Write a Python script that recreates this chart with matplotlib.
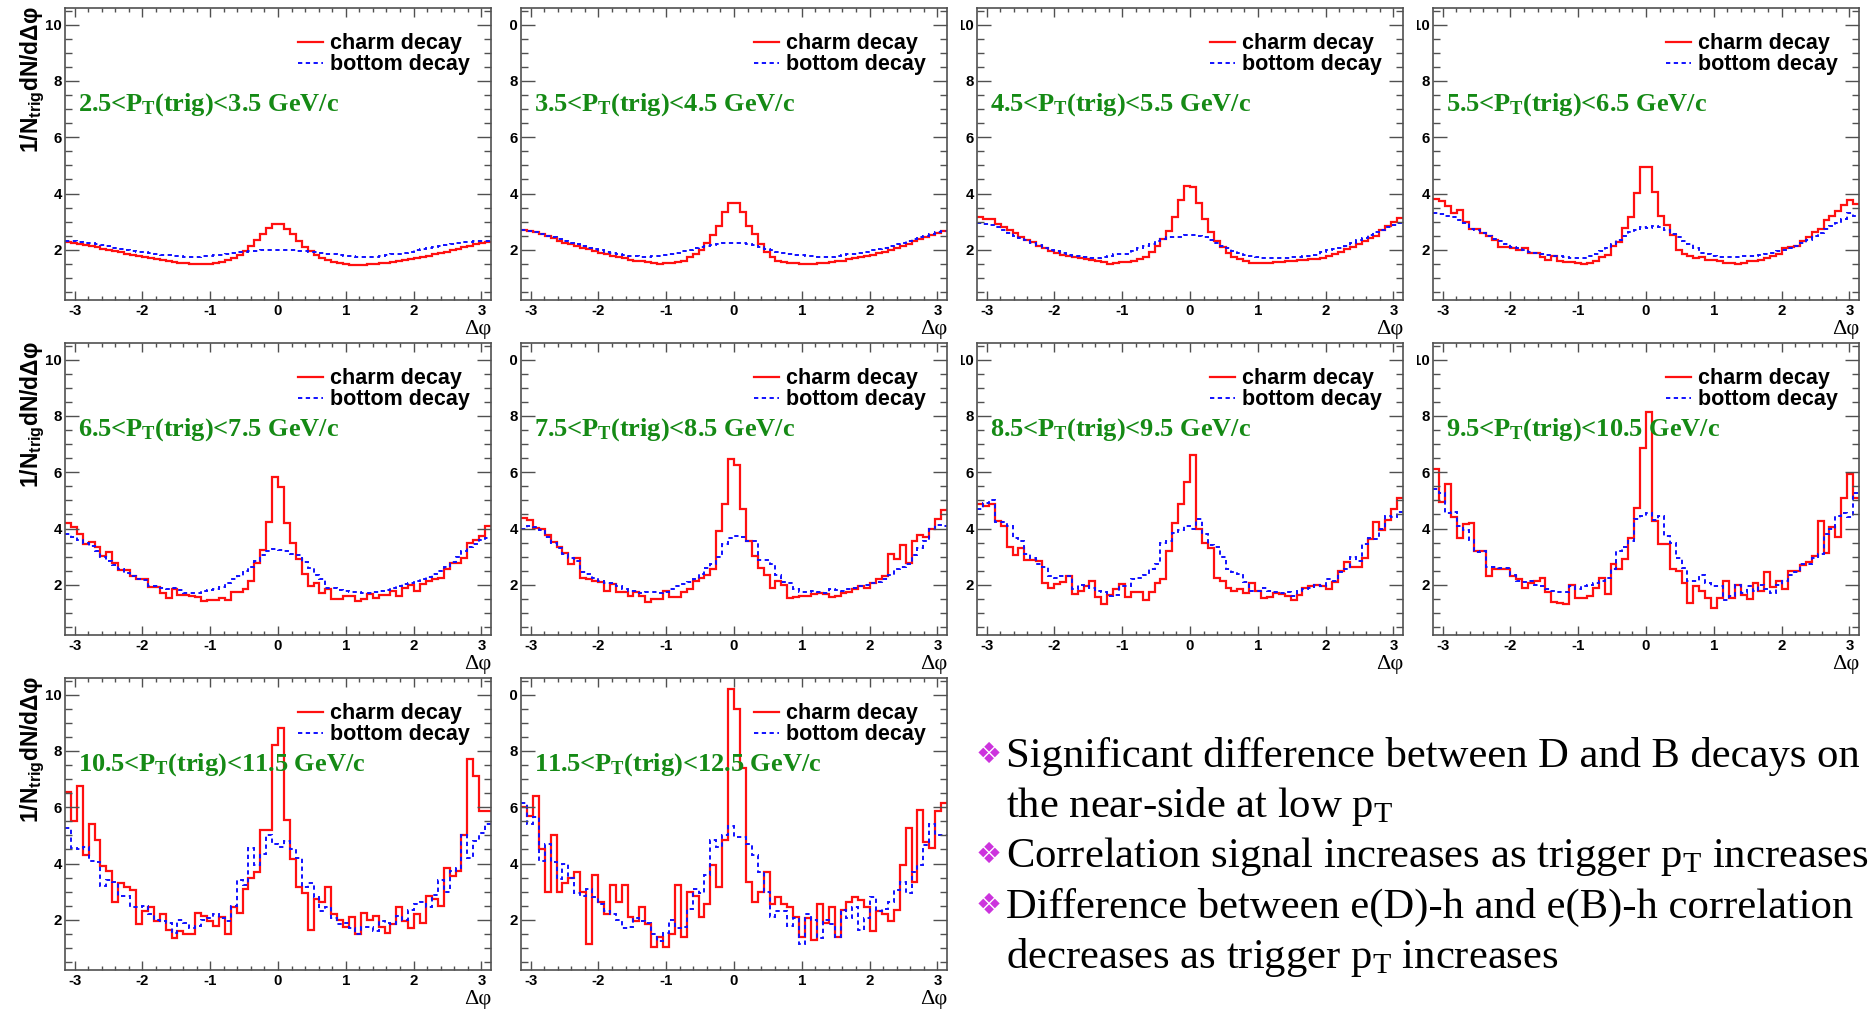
import numpy as np
import matplotlib
matplotlib.use("Agg")
import matplotlib.pyplot as plt
from matplotlib.transforms import Bbox, IdentityTransform, TransformedBbox
from matplotlib.ticker import MultipleLocator

# ---------------- data ----------------
pt_low = ["2.5", "3.5", "4.5", "5.5", "6.5", "7.5", "8.5", "9.5", "10.5", "11.5"]
pt_high = ["3.5", "4.5", "5.5", "6.5", "7.5", "8.5", "9.5", "10.5", "11.5", "12.5"]
n_bins = 72

charm_1 = [2.28, 2.25, 2.21, 2.17, 2.13, 2.09, 2.04, 2.0, 1.95, 1.91, 1.86, 1.82, 1.78, 1.74, 1.70, 1.66, 1.63, 1.60,
           1.57, 1.54, 1.52, 1.50, 1.49, 1.49, 1.51, 1.54, 1.58, 1.64, 1.72, 1.82, 1.95, 2.12, 2.35, 2.58, 2.78, 2.93,
           2.93, 2.75, 2.55, 2.3, 2.1, 1.95, 1.82, 1.72, 1.64, 1.58, 1.53, 1.5, 1.46, 1.47, 1.48, 1.5, 1.51, 1.53,
           1.55, 1.58, 1.61, 1.64, 1.67, 1.71, 1.75, 1.79, 1.84, 1.89, 1.94, 1.99, 2.04, 2.09, 2.15, 2.2, 2.25, 2.28]
bottom_1 = [2.33, 2.31, 2.29, 2.26, 2.23, 2.2, 2.16, 2.12, 2.08, 2.04, 2.0, 1.97, 1.94, 1.91, 1.88, 1.85, 1.83, 1.81,
            1.79, 1.77, 1.76, 1.75, 1.76, 1.77, 1.79, 1.81, 1.83, 1.86, 1.88, 1.91, 1.93, 1.95, 1.97, 1.99, 2.0, 2.01,
            2.01, 2.0, 1.99, 1.97, 1.95, 1.93, 1.91, 1.88, 1.86, 1.84, 1.82, 1.8, 1.78, 1.76, 1.75, 1.75, 1.76, 1.78,
            1.81, 1.84, 1.87, 1.9, 1.94, 1.98, 2.02, 2.06, 2.1, 2.14, 2.18, 2.22, 2.25, 2.27, 2.29, 2.31, 2.32, 2.33]

charm_2 = [2.7, 2.68, 2.62, 2.55, 2.48, 2.42, 2.32, 2.26, 2.2, 2.12, 2.07, 2.02, 1.96, 1.9, 1.86, 1.8, 1.76, 1.7,
           1.65, 1.62, 1.6, 1.56, 1.52, 1.51, 1.52, 1.53, 1.56, 1.6, 1.73, 1.86, 2.0, 2.26, 2.53, 2.85, 3.36, 3.65,
           3.65, 3.34, 2.85, 2.55, 2.22, 1.92, 1.74, 1.62, 1.56, 1.54, 1.52, 1.5, 1.5, 1.51, 1.52, 1.53, 1.56, 1.6,
           1.62, 1.66, 1.7, 1.74, 1.78, 1.82, 1.88, 1.93, 2.0, 2.08, 2.14, 2.22, 2.3, 2.38, 2.45, 2.52, 2.6, 2.68]
bottom_2 = [2.7, 2.67, 2.62, 2.56, 2.5, 2.44, 2.38, 2.32, 2.26, 2.2, 2.14, 2.08, 2.03, 1.98, 1.94, 1.9, 1.86, 1.82,
            1.79, 1.77, 1.76, 1.76, 1.77, 1.79, 1.82, 1.86, 1.9, 1.95, 2.0, 2.05, 2.1, 2.14, 2.18, 2.21, 2.23, 2.25,
            2.24, 2.23, 2.2, 2.16, 2.1, 2.04, 1.98, 1.93, 1.88, 1.85, 1.83, 1.81, 1.8, 1.78, 1.76, 1.75, 1.76, 1.78,
            1.81, 1.84, 1.87, 1.9, 1.94, 1.98, 2.03, 2.08, 2.14, 2.2, 2.26, 2.32, 2.38, 2.44, 2.5, 2.56, 2.62, 2.68]

charm_3 = [3.18, 3.1, 3.08, 2.92, 2.83, 2.72, 2.6, 2.45, 2.35, 2.28, 2.15, 2.05, 1.96, 1.9, 1.83, 1.78, 1.76, 1.7,
           1.68, 1.65, 1.6, 1.57, 1.5, 1.55, 1.57, 1.57, 1.6, 1.68, 1.76, 1.92, 2.12, 2.39, 2.67, 3.18, 3.77, 4.28,
           4.25, 3.66, 3.1, 2.63, 2.3, 2.1, 1.88, 1.76, 1.67, 1.61, 1.53, 1.53, 1.54, 1.55, 1.57, 1.58, 1.6, 1.62,
           1.63, 1.64, 1.66, 1.68, 1.72, 1.78, 1.85, 1.93, 2.02, 2.1, 2.2, 2.32, 2.42, 2.5, 2.7, 2.85, 2.98, 3.12]
bottom_3 = [2.97, 2.93, 2.88, 2.8, 2.72, 2.6, 2.5, 2.42, 2.35, 2.25, 2.17, 2.08, 2.0, 1.95, 1.88, 1.83, 1.8, 1.77,
            1.75, 1.72, 1.72, 1.73, 1.78, 1.85, 1.85, 1.85, 1.95, 2.05, 2.12, 2.2, 2.3, 2.4, 2.45, 2.45, 2.47, 2.52,
            2.52, 2.5, 2.45, 2.35, 2.25, 2.15, 2.05, 1.97, 1.9, 1.82, 1.78, 1.75, 1.72, 1.7, 1.7, 1.7, 1.72, 1.73,
            1.75, 1.78, 1.8, 1.83, 1.92, 1.98, 2.02, 2.08, 2.15, 2.25, 2.35, 2.42, 2.52, 2.62, 2.72, 2.8, 2.88, 2.95]

charm_4 = [3.8, 3.72, 3.55, 3.3, 3.4, 3.0, 2.75, 2.75, 2.6, 2.5, 2.35, 2.1, 2.1, 2.05, 1.98, 2.05, 1.9, 1.88,
           1.75, 1.65, 1.8, 1.6, 1.56, 1.56, 1.55, 1.5, 1.53, 1.6, 1.75, 1.82, 2.12, 2.27, 2.77, 3.18, 4.03, 4.93,
           4.93, 4.05, 3.2, 2.9, 2.53, 2.0, 1.85, 1.78, 1.72, 1.75, 1.65, 1.65, 1.62, 1.55, 1.52, 1.5, 1.55, 1.6,
           1.62, 1.65, 1.72, 1.8, 1.85, 2.05, 2.1, 2.12, 2.3, 2.45, 2.62, 2.75, 3.05, 3.2, 3.38, 3.6, 3.78, 3.62]
bottom_4 = [3.3, 3.28, 3.22, 3.15, 3.05, 2.95, 2.75, 2.7, 2.6, 2.5, 2.4, 2.3, 2.2, 2.1, 2.05, 1.98, 1.92, 1.9,
            1.85, 1.82, 1.78, 1.78, 1.75, 1.72, 1.7, 1.72, 1.8, 1.85, 1.95, 2.05, 2.2, 2.35, 2.5, 2.62, 2.7, 2.8,
            2.78, 2.85, 2.8, 2.7, 2.55, 2.45, 2.3, 2.2, 2.05, 1.9, 1.85, 1.8, 1.75, 1.75, 1.75, 1.75, 1.77, 1.78,
            1.8, 1.82, 1.85, 1.9, 1.95, 2.0, 2.08, 2.15, 2.25, 2.35, 2.48, 2.6, 2.75, 2.85, 2.95, 3.1, 3.3, 3.2]

charm_5 = [4.19, 4.04, 3.82, 3.44, 3.53, 3.33, 3.03, 3.15, 2.76, 2.52, 2.52, 2.32, 2.22, 2.2, 1.93, 1.93, 1.7, 1.55,
           1.85, 1.65, 1.65, 1.6, 1.57, 1.43, 1.45, 1.47, 1.55, 1.45, 1.75, 1.75, 1.87, 2.14, 2.77, 3.24, 4.24, 5.83,
           5.46, 4.2, 3.5, 2.91, 2.38, 1.96, 2.08, 1.7, 1.85, 1.51, 1.51, 1.61, 1.61, 1.43, 1.51, 1.67, 1.55, 1.65,
           1.65, 1.79, 1.61, 1.9, 2.0, 1.79, 2.02, 2.14, 2.2, 2.26, 2.56, 2.79, 2.79, 2.97, 3.5, 3.6, 3.75, 4.1]
bottom_5 = [3.82, 3.7, 3.6, 3.48, 3.38, 3.2, 3.0, 2.85, 2.7, 2.58, 2.42, 2.3, 2.2, 2.18, 1.95, 1.95, 1.9, 1.85,
            1.9, 1.82, 1.7, 1.72, 1.72, 1.8, 1.82, 1.85, 1.92, 2.05, 2.2, 2.3, 2.5, 2.65, 2.85, 3.05, 3.2, 3.27,
            3.25, 3.2, 3.1, 3.05, 2.8, 2.6, 2.35, 2.2, 1.9, 1.88, 1.82, 1.78, 1.75, 1.75, 1.72, 1.72, 1.75, 1.78,
            1.82, 1.88, 1.95, 2.02, 2.08, 2.12, 2.2, 2.28, 2.38, 2.48, 2.62, 2.8, 3.0, 3.2, 3.35, 3.45, 3.58, 3.65]

charm_6 = [4.39, 4.31, 4.01, 3.98, 3.76, 3.53, 3.33, 3.12, 2.73, 2.97, 2.26, 2.2, 2.14, 2.1, 1.79, 2.02, 1.75, 1.75,
           1.61, 1.73, 1.61, 1.4, 1.49, 1.49, 1.79, 1.57, 1.57, 1.73, 1.85, 2.12, 2.26, 2.34, 2.58, 3.92, 4.86, 6.46,
           6.25, 4.69, 3.55, 3.03, 2.6, 2.35, 1.88, 2.14, 2.0, 1.55, 1.58, 1.62, 1.62, 1.67, 1.7, 1.68, 1.58, 1.62,
           1.7, 1.73, 1.85, 1.96, 1.88, 2.08, 2.2, 2.32, 3.09, 2.93, 3.41, 2.79, 3.56, 3.76, 3.7, 3.98, 4.33, 4.66]
bottom_6 = [3.98, 4.08, 4.05, 3.95, 3.7, 3.5, 3.3, 3.1, 2.95, 2.85, 2.45, 2.38, 2.25, 2.12, 2.05, 2.05, 1.95, 1.85,
            1.8, 1.78, 1.72, 1.75, 1.75, 1.72, 1.75, 1.85, 1.95, 2.02, 2.1, 2.2, 2.38, 2.6, 2.75, 3.0, 3.45, 3.65,
            3.75, 3.7, 3.55, 3.55, 2.9, 2.88, 2.75, 2.35, 2.1, 2.05, 1.85, 1.75, 1.75, 1.78, 1.75, 1.72, 1.85, 1.82,
            1.8, 1.85, 1.9, 1.95, 2.0, 2.05, 2.1, 2.2, 2.35, 2.55, 2.65, 2.75, 3.05, 3.3, 3.55, 4.0, 4.12, 4.1]

charm_7 = [4.88, 4.8, 4.88, 4.27, 4.1, 3.33, 3.05, 3.3, 2.9, 2.9, 2.85, 2.08, 1.9, 2.02, 2.1, 2.3, 1.69, 1.79,
           1.96, 2.12, 1.57, 1.31, 1.64, 1.85, 2.02, 1.57, 1.73, 1.75, 1.47, 1.73, 2.06, 2.22, 3.21, 4.21, 4.89, 5.66,
           6.62, 4.0, 3.5, 3.3, 2.26, 2.12, 1.9, 1.78, 1.85, 1.72, 2.05, 1.8, 1.55, 1.58, 1.7, 1.68, 1.6, 1.45,
           1.65, 1.9, 1.95, 2.0, 1.95, 1.85, 2.1, 2.5, 2.82, 2.62, 2.65, 2.95, 3.62, 4.22, 3.95, 4.3, 4.7, 5.07]
bottom_7 = [4.7, 4.9, 5.0, 4.25, 4.25, 4.1, 3.65, 3.55, 3.1, 2.95, 2.75, 2.62, 2.3, 2.25, 2.3, 2.3, 1.85, 2.0,
            1.95, 1.9, 1.8, 1.75, 1.6, 1.65, 1.95, 1.95, 2.2, 2.25, 2.35, 2.55, 2.75, 3.5, 3.55, 3.85, 3.95, 4.1,
            4.0, 4.35, 3.8, 3.4, 3.35, 3.0, 2.55, 2.45, 2.4, 2.1, 1.8, 1.8, 1.9, 1.8, 1.75, 1.72, 1.75, 1.6,
            1.78, 1.85, 1.9, 2.0, 1.95, 2.2, 2.12, 2.45, 2.55, 3.0, 2.85, 3.45, 3.65, 3.62, 4.0, 4.45, 4.4, 4.6]

charm_8 = [6.1, 4.95, 5.6, 4.4, 3.65, 4.15, 4.2, 3.2, 3.2, 2.32, 2.55, 2.58, 2.58, 2.3, 2.22, 1.9, 2.08, 2.12,
           2.26, 1.73, 1.4, 1.34, 1.32, 2.0, 1.55, 1.55, 1.6, 1.9, 2.23, 1.69, 2.73, 2.58, 2.91, 3.68, 4.72, 6.85,
           8.15, 4.27, 3.45, 3.45, 2.58, 2.5, 2.08, 1.37, 1.96, 1.79, 1.55, 1.18, 1.55, 2.15, 1.55, 2.0, 1.65, 1.5,
           2.05, 1.78, 2.45, 1.92, 2.12, 1.85, 2.5, 2.5, 2.7, 2.82, 3.02, 4.28, 3.12, 4.05, 3.7, 5.1, 5.92, 5.1]
bottom_8 = [5.4, 5.25, 4.55, 4.6, 4.1, 3.95, 3.6, 3.15, 3.2, 2.65, 2.65, 2.6, 2.6, 2.35, 2.15, 2.1, 2.15, 2.0,
            1.95, 1.85, 1.8, 1.75, 1.75, 1.95, 1.85, 1.95, 2.0, 2.05, 2.15, 2.25, 2.55, 3.2, 3.35, 3.55, 4.35, 4.45,
            4.55, 4.3, 4.45, 3.75, 3.5, 2.95, 2.6, 2.15, 2.15, 2.35, 2.05, 1.95, 1.95, 1.45, 1.6, 2.0, 1.7, 1.95,
            1.8, 2.0, 1.85, 1.7, 2.0, 2.15, 2.35, 2.45, 2.75, 2.75, 2.95, 3.1, 3.8, 4.0, 4.45, 4.55, 4.4, 5.25]

charm_9 = [6.55, 5.5, 6.75, 4.3, 5.4, 4.85, 3.9, 3.75, 2.65, 3.3, 3.15, 3.05, 1.85, 2.3, 2.45, 1.95, 2.2, 1.65,
           1.35, 1.6, 1.5, 1.5, 2.25, 2.12, 1.95, 1.8, 2.1, 1.5, 2.45, 2.25, 3.1, 3.5, 3.7, 5.2, 5.2, 8.2,
           8.8, 5.55, 4.15, 3.15, 2.95, 1.65, 2.75, 2.65, 3.15, 2.2, 2.0, 1.75, 2.1, 1.5, 2.25, 2.0, 2.15, 1.75,
           1.55, 1.85, 2.45, 1.95, 1.7, 2.2, 1.9, 2.85, 2.75, 2.5, 3.85, 3.55, 3.75, 5.0, 7.7, 7.1, 5.85, 5.85]
bottom_9 = [5.25, 4.55, 4.5, 4.6, 4.1, 4.05, 3.2, 3.4, 3.35, 2.85, 2.85, 2.45, 2.45, 2.5, 2.2, 2.0, 1.95, 1.9,
            1.55, 2.0, 1.9, 1.7, 1.8, 2.0, 2.05, 2.2, 2.05, 1.95, 2.5, 3.4, 3.25, 4.55, 3.95, 4.35, 5.0, 4.7,
            4.6, 4.8, 4.5, 4.2, 3.15, 3.3, 2.8, 2.3, 2.45, 2.05, 1.85, 1.9, 1.7, 1.5, 1.75, 1.75, 1.6, 1.95,
            1.9, 1.85, 2.15, 2.0, 2.35, 2.55, 2.65, 2.45, 2.9, 3.4, 3.0, 3.75, 3.85, 5.0, 4.2, 4.8, 5.1, 5.4]

charm_10 = [6.0, 5.7, 6.4, 4.5, 3.0, 5.0, 3.0, 3.3, 3.5, 3.7, 3.0, 1.15, 3.6, 2.65, 2.2, 3.25, 2.65, 3.25,
            2.1, 1.95, 2.45, 1.85, 1.05, 1.4, 1.05, 1.5, 3.25, 1.4, 3.0, 2.85, 2.1, 2.55, 3.95, 3.15, 4.85, 10.2,
            9.5, 7.4, 3.35, 2.65, 3.0, 3.7, 2.55, 2.8, 2.55, 2.45, 2.1, 1.4, 2.05, 1.3, 2.55, 1.9, 2.45, 1.4,
            2.35, 2.65, 2.8, 2.7, 2.45, 1.6, 2.3, 2.2, 1.95, 2.35, 3.95, 5.25, 3.35, 5.9, 4.75, 4.55, 5.85, 6.15]
bottom_10 = [6.15, 5.4, 5.65, 4.1, 4.7, 4.05, 3.45, 4.0, 3.5, 2.95, 2.85, 3.1, 2.8, 2.55, 2.3, 2.2, 2.0, 1.7,
             1.75, 2.05, 1.95, 1.9, 1.5, 1.25, 1.55, 2.0, 1.7, 1.75, 2.4, 3.1, 2.95, 3.6, 4.85, 4.6, 5.0, 5.35,
             4.95, 4.95, 4.7, 4.3, 3.7, 3.0, 2.1, 2.3, 2.3, 1.8, 2.05, 1.15, 2.2, 2.0, 1.35, 2.0, 1.85, 1.4,
             2.35, 2.05, 2.45, 1.65, 2.05, 2.8, 2.3, 2.4, 2.65, 3.05, 3.35, 2.95, 3.7, 3.95, 4.65, 5.4, 5.0, 5.0]

charm = [charm_1, charm_2, charm_3, charm_4, charm_5, charm_6, charm_7, charm_8, charm_9, charm_10]
bottom = [bottom_1, bottom_2, bottom_3, bottom_4, bottom_5, bottom_6, bottom_7, bottom_8, bottom_9, bottom_10]

legend_labels = ["charm decay", "bottom decay"]
x_ticks = [-3, -2, -1, 0, 1, 2, 3]
y_ticks = [2, 4, 6, 8, 10]

bullet_lines = [
    ("Significant difference between D and B decays on", True),
    ("the near-side at low p$_{\\mathrm{T}}$", False),
    ("Correlation signal increases as trigger p$_{\\mathrm{T}}$ increases", True),
    ("Difference between e(D)-h and e(B)-h correlation", True),
    ("decreases as trigger p$_{\\mathrm{T}}$ increases", False),
]

# ---------------- style ----------------
plt.rcParams['axes.unicode_minus'] = False
plt.rcParams['font.family'] = ['Liberation Sans', 'DejaVu Sans']
plt.rcParams['mathtext.fontset'] = 'custom'
plt.rcParams['mathtext.rm'] = 'Liberation Serif'
plt.rcParams['mathtext.bf'] = 'Liberation Serif:bold'
plt.rcParams['mathtext.sf'] = 'Liberation Sans:bold'
plt.rcParams['mathtext.it'] = 'Liberation Serif:italic'

FW, FH = 1870, 1009
fig = plt.figure(figsize=(FW / 100, FH / 100), dpi=100)

col_left = [65, 521, 977, 1433]
row_top = [8, 343, 678]
AW, AH = 426, 292
clip_left = [None, 509, 961, 1417]
label_y = [0.648, 0.683, 0.683]
frame_col = '#505050'
green = '#158a15'

edges = np.linspace(-np.pi, np.pi, n_bins + 1)

for i in range(10):
    r, c = divmod(i, 4)
    l, t = col_left[c], row_top[r]
    ax = fig.add_axes([l / FW, 1 - (t + AH) / FH, AW / FW, AH / FH])
    cv = np.asarray(charm[i], dtype=float)
    bv = np.asarray(bottom[i], dtype=float)
    assert len(cv) == n_bins and len(bv) == n_bins, (i, len(cv), len(bv))
    ax.stairs(cv, edges, baseline=None, color='#ff1010', lw=1.6)
    ax.stairs(bv, edges, baseline=None, color='#1010ff', lw=1.4, linestyle=(0, (2.2, 1.8)))

    ax.set_xlim(-np.pi, np.pi)
    ax.set_ylim(0.22, 10.59)
    ax.set_xticks(x_ticks)
    ax.set_yticks(y_ticks)
    ax.xaxis.set_minor_locator(MultipleLocator(0.2))
    ax.yaxis.set_minor_locator(MultipleLocator(0.5))
    ax.tick_params(which='both', direction='in', top=True, right=True, color=frame_col,
                   labelsize=10.8)
    ax.tick_params(axis='x', which='major', length=6.5, width=1.0, pad=3.0)
    ax.tick_params(axis='x', which='minor', length=3.2, width=1.0)
    ax.tick_params(axis='y', which='major', length=10, width=1.0, pad=2)
    ax.tick_params(axis='y', which='minor', length=5, width=1.0)
    for lab in ax.get_xticklabels() + ax.get_yticklabels():
        lab.set_fontweight('bold')
    for sp in ax.spines.values():
        sp.set_color(frame_col)
        sp.set_linewidth(1.2)

    # legend
    ax.plot([0.548, 0.606], [0.882, 0.882], transform=ax.transAxes, color='#ff1010', lw=1.6, clip_on=False)
    ax.plot([0.548, 0.606], [0.812, 0.812], transform=ax.transAxes, color='#1010ff', lw=1.4,
            linestyle=(0, (2.2, 1.8)), clip_on=False)
    ax.text(0.623, 0.861, legend_labels[0], transform=ax.transAxes, fontsize=15.5, fontweight='bold',
            va='baseline', ha='left')
    ax.text(0.623, 0.789, legend_labels[1], transform=ax.transAxes, fontsize=15.5, fontweight='bold',
            va='baseline', ha='left')

    # pT range label
    ax.text(0.03, label_y[r], pt_low[i] + "<P$_{\\mathbf{T}}$(trig)<" + pt_high[i] + " GeV/c",
            transform=ax.transAxes, fontfamily='Liberation Serif', fontweight='bold', fontsize=19,
            color=green, va='baseline', ha='left')

    # x label
    ax.annotate("\u0394\u03c6", xy=(1, 0), xycoords='axes fraction', xytext=(0, -34),
                textcoords='offset pixels', ha='right', va='baseline', fontfamily='Liberation Serif',
                fontsize=16, annotation_clip=False)

    if c == 0:
        fig.text(32 / FW, 1 - (t - 2) / FH, "1/N$_{\\mathsf{trig}}$dN/d\u0394\u03c6", rotation=90,
                 ha='center', va='top', fontsize=16.5, fontweight='bold')
    else:
        cb = TransformedBbox(Bbox([[clip_left[c], 0], [FW, FH]]), IdentityTransform())
        for tk in ax.yaxis.get_major_ticks():
            tk.label1.set_clip_box(cb)
            tk.label1.set_clip_on(True)

# bullet text
base_y = [767, 817, 867, 918, 968]
for (txt, bullet), by in zip(bullet_lines, base_y):
    if bullet:
        fig.text(976 / FW, 1 - (by - 12) / FH, "\u2756", fontfamily='DejaVu Sans', color='#cc33dd',
                 fontsize=21, va='center', ha='left')
    fig.text(1006 / FW, 1 - by / FH, txt, fontfamily='Liberation Serif', fontweight='normal',
             fontsize=30.7, va='baseline', ha='left')

fig.savefig('out.png', dpi=100)
